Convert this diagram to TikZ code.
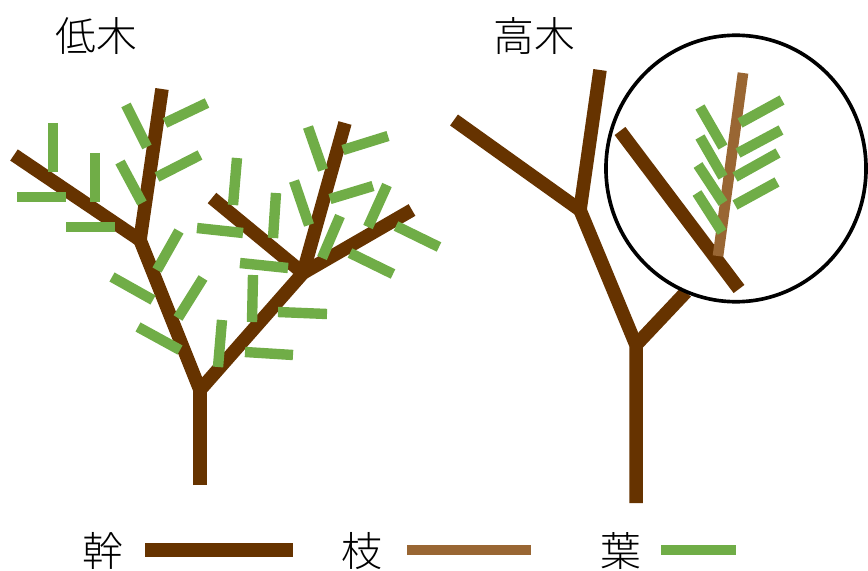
\documentclass[tikz,border=0pt]{standalone}
\usepackage{fontspec}
\newfontfamily\jpfont{Noto Sans CJK JP Light}
\definecolor{trunkbrown}{HTML}{663300}
\definecolor{twigbrown}{HTML}{996633}
\definecolor{leafgreen}{HTML}{70AD47}
\tikzset{
    trunk/.style={draw=trunkbrown, line width=9.6pt},
    twig/.style={draw=twigbrown, line width=7.6pt},
    leaf/.style={draw=leafgreen, line width=7.4pt},
    treelabel/.style={font=\jpfont\fontsize{29pt}{32pt}\selectfont, inner sep=0pt}
}

\begin{document}
\begin{tikzpicture}[x=0.025cm, y=-0.025cm, line join=miter]
                \useasboundingbox (0,0) rectangle (868,571);
                % low tree
                \coordinate (lroot) at (200,485);
                \coordinate (lfork) at (200,390);
                \coordinate (lmid) at (140,240);
                \coordinate (ltop) at (162,89);
                \coordinate (lleft) at (14,155);
                \coordinate (rmid) at (303,273);
                \coordinate (rtop) at (345,123);
                \coordinate (rleft) at (212,198);
                \coordinate (rright) at (412,210);
                \draw[trunk] (lroot)--(lfork);
                \draw[trunk] (lfork)--(lmid)--(ltop);
                \draw[trunk] (lmid)--(lleft);
                \draw[trunk] (lfork)--(rmid)--(rtop);
                \draw[trunk] (rmid)--(rleft);
                \draw[trunk] (rmid)--(rright);
                \foreach \a/\b/\c/\d in {53/123/53/172, 95/153/95/202, 17/197/66/197, 66/227/115/227,
                    126/105/147/147, 165/123/207/103, 120/162/142/203, 157/177/200/155,
                    179/231/157/270, 112/277/153/300, 203/278/178/318, 138/327/180/350,
                    222/320/218/367, 245/352/293/355, 253/275/252/322, 278/312/327/314,
                    240/263/288/268, 197/228/243/233, 237/158/233/205, 276/193/273/238,
                    294/181/309/225, 308/127/323/170, 343/150/388/136, 330/199/373/186,
                    387/185/368/227, 340/216/322/258, 396/226/439/247, 350/253/393/274}{
                    \draw[leaf] (\a,\b)--(\c,\d);
                }
                % tall tree
                \coordinate (hroot) at (636,503);
                \coordinate (hfork) at (636,345);
                \coordinate (hmid) at (580,210);
                \coordinate (htop) at (600,70);
                \coordinate (hleft) at (454,120);
                \coordinate (hright) at (686,292);
                \draw[trunk] (hroot)--(hfork)--(hmid)--(htop);
                \draw[trunk] (hmid)--(hleft);
                \draw[trunk] (hfork)--(hright);
                % close-up
                \coordinate (zbase) at (739,289);
                \coordinate (ztip) at (620,131);
                \coordinate (tbase) at (718,256);
                \coordinate (ttip) at (743,73);
                \draw[trunk] (zbase)--(ztip);
                \draw[twig] (tbase)--(ttip);
                \foreach \a/\b/\c/\d in {700/107/723/147, 700/137/723/177, 698/165/723/203, 697/193/722/232,
                    740/123/782/100, 738/153/781/130, 735/177/778/153, 735/205/777/182}{
                    \draw[leaf] (\a,\b)--(\c,\d);
                }
                \draw[line width=2.6pt] (736,168.5) ellipse[x radius=3.25cm, y radius=3.33cm];
                % titles and key
                \node[treelabel] (lowname) at (96,36) {低木};
                \node[treelabel] (tallname) at (534,36) {高木};
                \node[treelabel] (trunkkey) at (103,551) {幹};
                \node[treelabel] (twigkey) at (362,551) {枝};
                \node[treelabel] (leafkey) at (621,551) {葉};
                \draw[trunk, line width=10pt] (145,550)--(293,550);
                \draw[twig, line width=7.2pt] (407,550)--(531,550);
                \draw[leaf, line width=7.8pt] (661,550)--(736,550);
            \end{tikzpicture}
\end{document}
